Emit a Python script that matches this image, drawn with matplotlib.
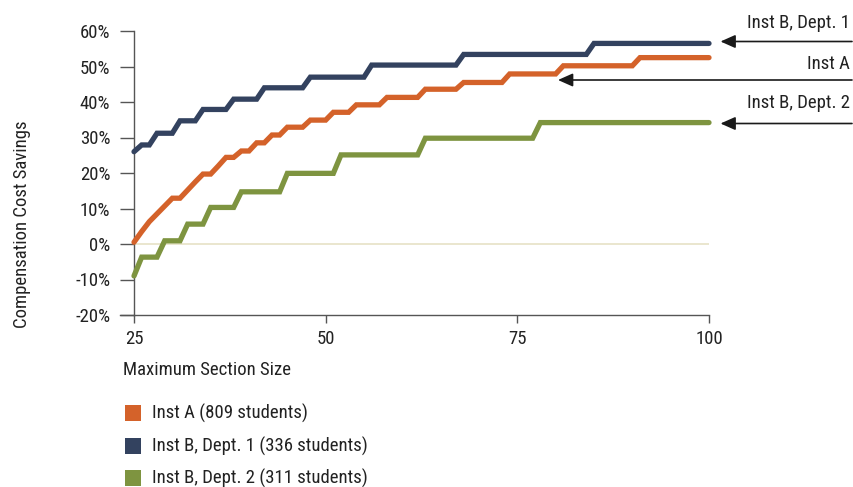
import matplotlib
matplotlib.use("Agg")
import matplotlib.pyplot as plt
from matplotlib import font_manager as fm

# pick a condensed face if one is installed
cands = []
for f in fm.fontManager.ttflist:
    st = str(f.stretch).lower()
    nm = f.name.lower()
    fn = f.fname.lower()
    cond = ("condensed" in st or "narrow" in nm or "condensed" in nm or "condensed" in fn or "narrow" in fn)
    if cond and f.weight in (400, "normal", "regular") and f.style == "normal" and "extra" not in st and "ultra" not in st:
        cands.append(f)
FONT_FILE = None
for pref in ["liberation sans narrow", "roboto condensed", "noto sans", "open sans", "dejavu sans"]:
    for f in cands:
        if f.name.lower().startswith(pref):
            FONT_FILE = f.fname
            break
    if FONT_FILE:
        break
if FONT_FILE is None and cands:
    FONT_FILE = cands[0].fname
if FONT_FILE:
    FP = fm.FontProperties(fname=FONT_FILE)
else:
    FP = fm.FontProperties(family="Liberation Sans")

# ---- data (vertices of step lines) ----
inst_a_x = [25, 26, 27, 28, 29, 30, 31, 32, 33, 34, 35, 36, 37, 38, 39, 40, 41, 42, 43, 44, 45, 47, 48, 50, 51, 53, 54, 57, 58, 62, 63, 67, 68, 73, 74, 80, 81, 90, 91, 100]
inst_a_y = [0.5, 3.5, 6.3, 8.5, 10.7, 12.9, 12.9, 15.2, 17.5, 19.7, 19.7, 22.0, 24.4, 24.4, 26.2, 26.2, 28.5, 28.5, 30.7, 30.7, 32.9, 32.9, 34.9, 34.9, 37.1, 37.1, 39.2, 39.2, 41.3, 41.3, 43.6, 43.6, 45.5, 45.5, 47.9, 47.9, 50.2, 50.2, 52.5, 52.5]

dept1_x = [25, 26, 27, 28, 30, 31, 33, 34, 37, 38, 41, 42, 47, 48, 55, 56, 67, 68, 84, 85, 100]
dept1_y = [26.0, 27.9, 27.9, 31.2, 31.2, 34.7, 34.7, 37.9, 37.9, 40.8, 40.8, 44.0, 44.0, 47.0, 47.0, 50.4, 50.4, 53.4, 53.4, 56.5, 56.5]

dept2_x = [25, 26, 28, 29, 31, 32, 34, 35, 38, 39, 44, 45, 51, 52, 62, 63, 77, 78, 100]
dept2_y = [-9.0, -3.7, -3.7, 0.9, 0.9, 5.6, 5.6, 10.3, 10.3, 14.7, 14.7, 19.9, 19.9, 25.1, 25.1, 29.8, 29.8, 34.2, 34.2]

series_labels = ["Inst A (809 students)", "Inst B, Dept. 1 (336 students)", "Inst B, Dept. 2 (311 students)"]
series_colors = ["#D4622A", "#33425F", "#7E9440"]

x_ticks = [25, 50, 75, 100]
y_ticks = [-20, -10, 0, 10, 20, 30, 40, 50, 60]
y_tick_labels = ["-20%", "-10%", "0%", "10%", "20%", "30%", "40%", "50%", "60%"]

annot_labels = ["Inst B, Dept. 1", "Inst A", "Inst B, Dept. 2"]
annot_target_x = [101.5, 80.3, 101.5]
annot_target_y = [56.5, 46.0, 33.5]

FS = 13.5
TXT = "#222222"

def fp(size=FS):
    p = FP.copy()
    p.set_size(size)
    return p

W, H = 854, 487
fig = plt.figure(figsize=(W / 100, H / 100), dpi=100)
ax = fig.add_axes([134 / W, 1 - 315 / H, 575 / W, 284 / H])

ax.axhline(0, color="#E6E2C6", lw=1.2, zorder=1)
for xs, ys, c in [(dept2_x, dept2_y, series_colors[2]),
                  (inst_a_x, inst_a_y, series_colors[0]),
                  (dept1_x, dept1_y, series_colors[1])]:
    ax.plot(xs, ys, color=c, lw=3.8, solid_capstyle="round", solid_joinstyle="miter", zorder=3, clip_on=False)

ax.set_xlim(25, 100)
ax.set_ylim(-20, 60)
ax.set_xticks(x_ticks)
ax.set_xticklabels([str(v) for v in x_ticks], fontproperties=fp())
ax.set_yticks(y_ticks)
ax.set_yticklabels(y_tick_labels, fontproperties=fp())

spine_c = "#555555"
for s in ["top", "right"]:
    ax.spines[s].set_visible(False)
for s in ["left", "bottom"]:
    ax.spines[s].set_color(spine_c)
    ax.spines[s].set_linewidth(1.0)
ax.spines["bottom"].set_bounds(25, 100)
ax.tick_params(axis="y", direction="out", length=10, width=1.0, color=spine_c, pad=7, labelcolor=TXT)
ax.tick_params(axis="x", direction="out", length=6, width=1.0, color=spine_c, pad=5, labelcolor=TXT)

# extend x axis line left of y axis (like the reference)
ax.plot([-0.025, 0], [0, 0], transform=ax.transAxes, color=spine_c, lw=1.0, clip_on=False)

fig.text(22 / W, 1 - 224 / H, "Compensation Cost Savings", rotation=90, ha="center", va="center", fontproperties=fp(), color=TXT)
fig.text(123 / W, 1 - 370 / H, "Maximum Section Size", ha="left", va="center", fontproperties=fp(), color=TXT)

# right-side annotations
text_y = [23, 64, 103]
line_y = [41.5, 80, 123.5]
for lab, tx, ty, tyt, ly in zip(annot_labels, annot_target_x, annot_target_y, text_y, line_y):
    fig.text(850 / W, 1 - tyt / H, lab, ha="right", va="center", fontproperties=fp(), color=TXT)
    x_disp, _ = ax.transData.transform((tx, ty))
    ax.annotate("", xy=(x_disp / W, 1 - ly / H), xycoords="figure fraction",
                xytext=(852 / W, 1 - ly / H), textcoords="figure fraction",
                arrowprops=dict(arrowstyle="-|>,head_length=0.9,head_width=0.4", color="#1a1a1a", lw=1.2,
                                shrinkA=0, shrinkB=0))

# legend
leg_y = [413, 446, 478]
for lab, c, ly in zip(series_labels, series_colors, leg_y):
    fig.patches.append(plt.Rectangle((125 / W, 1 - (ly + 8) / H), 16 / W, 16 / H, transform=fig.transFigure,
                                     facecolor=c, edgecolor="none"))
    fig.text(152 / W, 1 - ly / H, lab, ha="left", va="center", fontproperties=fp(), color=TXT)

fig.savefig("out.png", dpi=100)
